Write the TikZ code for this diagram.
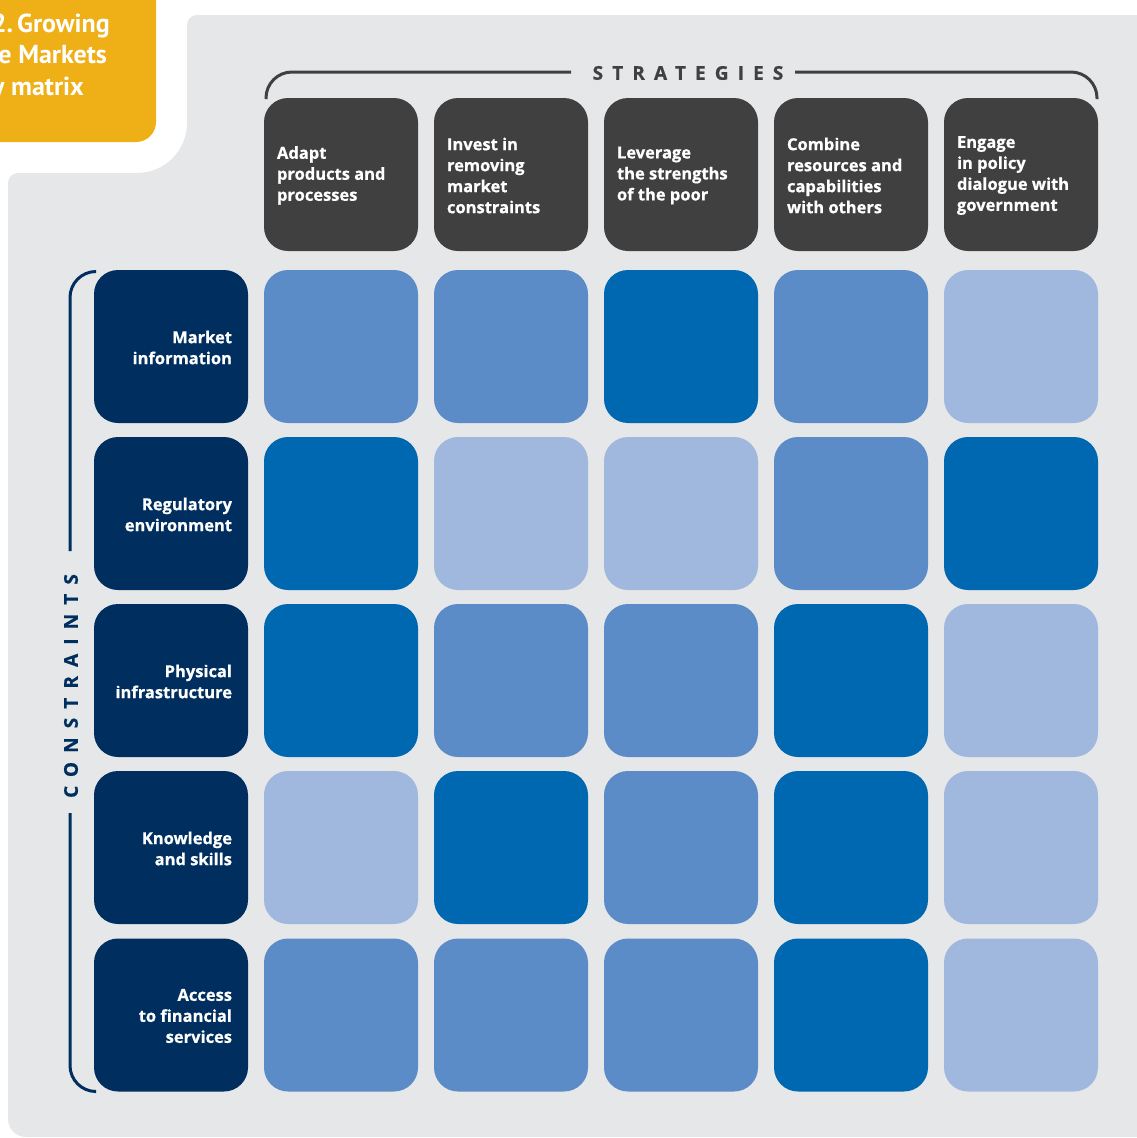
\documentclass[tikz,border=0pt]{standalone}
\usepackage{fontspec}
\setmainfont{Open Sans}[BoldFont={Open Sans Bold}, BoldFeatures={FakeBold=0.6}]
\newfontfamily\titlefont{PT Sans}
\newfontfamily\spacedfont[LetterSpace=48, BoldFont={Open Sans Bold}, BoldFeatures={FakeBold=0.6}]{Open Sans}
\definecolor{bggrey}{HTML}{E6E7E8}
\definecolor{hdr}{HTML}{404041}
\definecolor{navy}{HTML}{002F5F}
\definecolor{cD}{HTML}{0067B1}
\definecolor{cM}{HTML}{5B8CC7}
\definecolor{cL}{HTML}{A1B8DE}
\definecolor{gold}{HTML}{EFAF17}
\tikzset{
  cellbox/.style={rectangle, rounded corners=24pt, minimum width=154pt, minimum height=153pt, inner sep=0pt},
  hdrbox/.style={cellbox, fill=hdr},
  conbox/.style={cellbox, fill=navy},
  dbox/.style={cellbox, fill=cD},
  mbox/.style={cellbox, fill=cM},
  lbox/.style={cellbox, fill=cL},
  celltext/.style={text=white, font=\bfseries\fontsize{16.5}{21}\selectfont, inner sep=0pt},
  hdrtext/.style={celltext, align=left, anchor=west},
  context/.style={celltext, align=right, anchor=east},
  titletext/.style={text=white, font=\titlefont\bfseries\fontsize{26}{31}\selectfont, inner sep=0pt, anchor=base east},
  brk/.style={line width=3pt, rounded corners=26pt},
  spaced/.style={font=\spacedfont\bfseries\fontsize{19}{22}\selectfont, inner sep=0pt}
}
\begin{document}
\begin{tikzpicture}[x=1pt, y=-1pt]
\useasboundingbox (0,0) rectangle (1137,1138);
% background
\fill[bggrey] (8,700) [rounded corners=10pt] -- (8,173) [rounded corners=50pt] -- (187,173) [rounded corners=10pt] -- (187,15) -- (1150,15) -- (1150,1137) [rounded corners=18pt] -- (8,1137) [sharp corners] -- cycle;
% title box
\fill[gold] (-20,-20) [rounded corners=20pt] -- (156,-20) -- (156,142) -- (-20,142) [sharp corners] -- cycle;
\node[titletext] (t1) at (110,32) {2.\,Growing};
\node[titletext] (t2) at (107,63) {e Markets};
\node[titletext] (t3) at (84,95) {y matrix};
% strategies header
\node[spaced, text=hdr] (strat) at (688,73) {STRATEGIES};
\draw[brk, hdr] (266,99) |- (571,72);
\draw[brk, hdr] (795,72) -| (1097,99);
% constraints label
\node[spaced, text=navy, rotate=90] (cons) at (71,686) {CONSTRAINTS};
\draw[brk, navy] (95,271.5) -| (70,551);
\draw[brk, navy] (70,813) |- (95,1091.5);
% header cells
\node[hdrbox] (h1) at (341,174.5) {};
\node[hdrbox] (h2) at (511,174.5) {};
\node[hdrbox] (h3) at (681,174.5) {};
\node[hdrbox] (h4) at (851,174.5) {};
\node[hdrbox] (h5) at (1021,174.5) {};
\node[hdrtext] (h1t) at ([xshift=13pt,yshift=-1pt]h1.west) {Adapt\\products and\\processes};
\node[hdrtext] (h2t) at ([xshift=13pt,yshift=-1pt]h2.west) {Invest in\\removing\\market\\constraints};
\node[hdrtext] (h3t) at ([xshift=13pt,yshift=-1pt]h3.west) {Leverage\\the strengths\\of the poor};
\node[hdrtext] (h4t) at ([xshift=13pt,yshift=-1pt]h4.west) {Combine\\resources and\\capabilities\\with others};
\node[hdrtext] (h5t) at ([xshift=13pt,yshift=-1pt]h5.west) {Engage\\in policy\\dialogue with\\government};
% constraint cells
\node[conbox] (c1) at (171,346.5) {};
\node[conbox] (c2) at (171,513.5) {};
\node[conbox] (c3) at (171,680.5) {};
\node[conbox] (c4) at (171,847.5) {};
\node[conbox] (c5) at (171,1015) {};
\node[context] (c1t) at ([xshift=-16pt,yshift=-1pt]c1.east) {Market\\information};
\node[context] (c2t) at ([xshift=-16pt,yshift=-1pt]c2.east) {Regulatory\\environment};
\node[context] (c3t) at ([xshift=-16pt,yshift=-1pt]c3.east) {Physical\\infrastructure};
\node[context] (c4t) at ([xshift=-16pt,yshift=-1pt]c4.east) {Knowledge\\and skills};
\node[context] (c5t) at ([xshift=-16pt,yshift=-1pt]c5.east) {Access\\to financial\\services};
% matrix
\node[mbox] (m11) at (341,346.5) {};
\node[mbox] (m12) at (511,346.5) {};
\node[dbox] (m13) at (681,346.5) {};
\node[mbox] (m14) at (851,346.5) {};
\node[lbox] (m15) at (1021,346.5) {};
\node[dbox] (m21) at (341,513.5) {};
\node[lbox] (m22) at (511,513.5) {};
\node[lbox] (m23) at (681,513.5) {};
\node[mbox] (m24) at (851,513.5) {};
\node[dbox] (m25) at (1021,513.5) {};
\node[dbox] (m31) at (341,680.5) {};
\node[mbox] (m32) at (511,680.5) {};
\node[mbox] (m33) at (681,680.5) {};
\node[dbox] (m34) at (851,680.5) {};
\node[lbox] (m35) at (1021,680.5) {};
\node[lbox] (m41) at (341,847.5) {};
\node[dbox] (m42) at (511,847.5) {};
\node[mbox] (m43) at (681,847.5) {};
\node[dbox] (m44) at (851,847.5) {};
\node[lbox] (m45) at (1021,847.5) {};
\node[mbox] (m51) at (341,1015) {};
\node[mbox] (m52) at (511,1015) {};
\node[mbox] (m53) at (681,1015) {};
\node[dbox] (m54) at (851,1015) {};
\node[lbox] (m55) at (1021,1015) {};
\end{tikzpicture}
\end{document}
